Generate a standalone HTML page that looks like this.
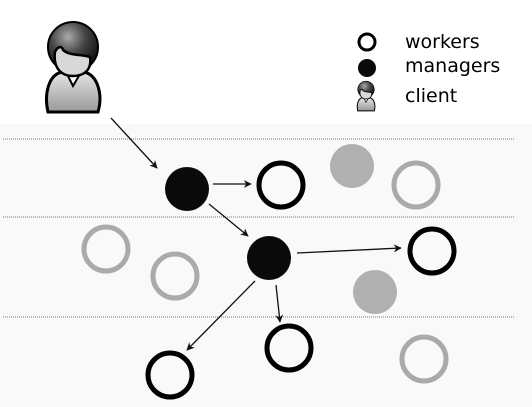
<!DOCTYPE html>
<html><head><style>body{margin:0;background:#fff}svg{display:block}</style></head><body>
<svg width="532" height="407" xmlns="http://www.w3.org/2000/svg">
<defs>
<radialGradient id="hair" cx="0.4" cy="0.3" r="0.7"><stop offset="0" stop-color="#aaa"/><stop offset="0.5" stop-color="#444"/><stop offset="1" stop-color="#111"/></radialGradient>
<linearGradient id="bod" x1="0" y1="0" x2="0" y2="1"><stop offset="0" stop-color="#e4e4e4"/><stop offset="1" stop-color="#999"/></linearGradient>
<marker id="ah" viewBox="0 0 10 10" refX="9" refY="5" markerWidth="8" markerHeight="8" orient="auto" markerUnits="userSpaceOnUse"><path d="M0,0 L10,5 L0,10 L3,5z" fill="#111"/></marker>
<g id="person">
<path d="M48,112 C44,95 48,75 62,72 L84,72 C98,75 103,95 98,112 Z" fill="url(#bod)" stroke="#000" stroke-width="3"/>
<path d="M67,74 L73,86 L80,74 Z" fill="#fff" stroke="#000" stroke-width="2"/>
<circle cx="73" cy="47" r="25" fill="url(#hair)" stroke="#000" stroke-width="2"/>
<path d="M55,52 C57,47 62,45 63,50 C70,56 80,54 90,57 C92,70 84,76 73,76 C61,76 53,68 55,52Z" fill="#d8d8d8" stroke="#000" stroke-width="2.5"/>
</g>
</defs>
<rect x="0" y="124" width="532" height="283" fill="#f9f9f9"/>
<g stroke="#777" stroke-width="1" stroke-dasharray="1,1">
<line x1="3" y1="139" x2="515" y2="139"/><line x1="3" y1="217" x2="515" y2="217"/><line x1="3" y1="317" x2="515" y2="317"/>
</g>
<use href="#person"/>
<g transform="translate(366,96) scale(0.33) translate(-73,-67)"><use href="#person"/></g>
<circle cx="367" cy="42" r="8" fill="#fff" stroke="#000" stroke-width="3"/>
<circle cx="367" cy="68" r="9" fill="#0a0a0a"/>
<g font-family="DejaVu Sans, sans-serif" font-size="19" fill="#000">
<text x="405" y="48">workers</text><text x="405" y="72">managers</text><text x="405" y="102">client</text>
</g>
<g fill="none" stroke-width="5">
<circle cx="281" cy="185" r="22" stroke="#000"/>
<circle cx="416" cy="185" r="22" stroke="#aaa"/>
<circle cx="106" cy="249" r="22" stroke="#aaa"/>
<circle cx="175" cy="276" r="22" stroke="#aaa"/>
<circle cx="432" cy="251" r="22" stroke="#000"/>
<circle cx="289" cy="348" r="22" stroke="#000"/>
<circle cx="170" cy="375" r="22" stroke="#000"/>
<circle cx="424" cy="359" r="22" stroke="#aaa"/>
</g>
<circle cx="352" cy="166" r="22" fill="#b0b0b0"/>
<circle cx="375" cy="292" r="22" fill="#b0b0b0"/>
<circle cx="187" cy="189" r="22" fill="#0a0a0a"/>
<circle cx="269" cy="258" r="22" fill="#0a0a0a"/>
<g stroke="#111" stroke-width="1.3" marker-end="url(#ah)">
<line x1="111" y1="118" x2="157" y2="168"/>
<line x1="213" y1="184" x2="251" y2="184"/>
<line x1="209" y1="204" x2="248" y2="236"/>
<line x1="297" y1="253" x2="401" y2="248"/>
<line x1="276" y1="285" x2="280" y2="322"/>
<line x1="255" y1="281" x2="187" y2="350"/>
</g>
</svg>
</body></html>
